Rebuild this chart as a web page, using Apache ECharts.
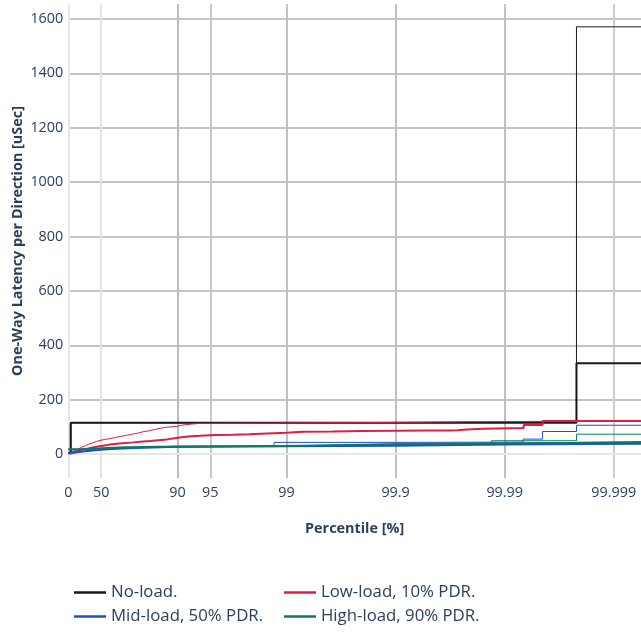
<!DOCTYPE html>
<html>
<head>
<meta charset="utf-8">
<script src="https://cdn.jsdelivr.net/npm/echarts@6/dist/echarts.min.js"></script>
<style>
html,body{margin:0;padding:0;background:#fff;}
#chart{width:641px;height:633px;}
</style>
</head>
<body>
<div id="chart"></div>
<script>
// ---- Data (percentile [%], latency [uSec]) ----
const noLoadD1Pct = [0, 5, 99.9978, 99.9995];
const noLoadD1Lat = [5, 115, 334, 334];
const noLoadD2Pct = [0, 5, 99.71, 99.9932, 99.9955, 99.9978, 99.9995];
const noLoadD2Lat = [5, 115, 116, 119, 123, 1571, 1571];

const lowLoadD1Pct = [0, 5, 10, 15, 20, 25, 30, 35, 40, 45, 50, 55, 58.6, 62, 66, 70, 74.6, 78, 82.2, 85, 87.5, 89, 90.5, 92, 93.8, 95.5, 96.9, 97.8, 98.48, 99, 99.29, 99.625, 99.8, 99.9, 99.95, 99.968, 99.973, 99.978, 99.984, 99.9933, 99.9955, 99.9995];
const lowLoadD1Lat = [3, 6, 9, 12, 15, 18, 21, 24, 27, 30, 32, 35, 37, 39, 41, 43, 45, 48, 51, 54, 57, 61, 65, 67, 70, 71, 73, 76, 78, 82, 83, 85, 86, 87, 87, 88, 90, 93, 96, 107, 122, 122];
const lowLoadD2Pct = [0, 5, 10, 15, 20, 24.6, 30, 35, 40.6, 45, 50, 54, 58.6, 63, 67, 70.9, 74, 77, 79.3, 82, 84.5, 87, 89.9, 91.1, 92.5, 93.8, 99.861, 99.975, 99.9995];
const lowLoadD2Lat = [5, 10, 15, 20, 25, 30, 36, 41, 47, 51, 54, 57, 61, 65, 69, 73, 77, 82, 86, 92, 98, 102, 107, 110, 113, 116, 119, 122, 122];

const midLoadD1Pct = [0, 5, 10, 20, 30, 40, 50, 60, 75, 90, 99, 99.9, 99.99, 99.9978, 99.9995];
const midLoadD1Lat = [3, 6, 8, 10, 13, 16, 19, 22, 27, 29, 31, 35, 37, 38, 38];
const midLoadD2Pct = [0, 10, 20, 30, 40, 50, 60, 70, 90, 98.7, 99.9, 99.9932, 99.9955, 99.9978, 99.9995];
const midLoadD2Lat = [3, 8, 11, 14, 17, 20, 23, 26, 29, 43, 44, 55, 83, 106, 106];

const highLoadD1Pct = [0, 20, 50, 70, 90, 99, 99.9, 99.99, 99.9978, 99.9995];
const highLoadD1Lat = [18, 21, 25, 28, 30, 36, 40, 42, 45, 45];
const highLoadD2Pct = [0, 30, 60, 90, 99, 99.9, 99.9868, 99.9978, 99.9995];
const highLoadD2Lat = [16, 21, 26, 30, 37, 40, 49, 73, 73];

// ---- Axis ticks ----
const xTickPct = ['0', '50', '90', '95', '99', '99.9', '99.99', '99.999'];
const xTickValues = [1, 2, 10, 20, 100, 1000, 10000, 100000]; // 1/(1-p)
const yTickValues = [0, 200, 400, 600, 800, 1000, 1200, 1400, 1600];

const names = ['No-load.', 'Low-load, 10% PDR.', 'Mid-load, 50% PDR.', 'High-load, 90% PDR.'];
const colors = ['#1a1a1a', '#dc1f45', '#1f4fc9', '#0a7a68'];

function toPts(pcts, lats) {
  return pcts.map((p, i) => [100 / (100 - p), lats[i]]);
}

const traces = [
  [noLoadD1Pct, noLoadD1Lat, 0, 2],
  [noLoadD2Pct, noLoadD2Lat, 0, 1],
  [lowLoadD1Pct, lowLoadD1Lat, 1, 2],
  [lowLoadD2Pct, lowLoadD2Lat, 1, 1],
  [midLoadD1Pct, midLoadD1Lat, 2, 2],
  [midLoadD2Pct, midLoadD2Lat, 2, 1],
  [highLoadD1Pct, highLoadD1Lat, 3, 2],
  [highLoadD2Pct, highLoadD2Lat, 3, 1]
];

const series = traces.map(t => ({
  type: 'line',
  name: names[t[2]],
  data: toPts(t[0], t[1]),
  step: 'end',
  showSymbol: false,
  symbol: 'none',
  color: colors[t[2]],
  lineStyle: { color: colors[t[2]], width: t[3] },
  animation: false
}));

const FONT = '"Open Sans", sans-serif';
const TXT = '#2a3f5f';

const chart = echarts.init(document.getElementById('chart'), null, { renderer: 'canvas' });
chart.setOption({
  backgroundColor: '#fff',
  animation: false,
  textStyle: { fontFamily: FONT },
  grid: { left: 68.3, right: 0, top: 4, bottom: 155, containLabel: false, outerBoundsMode: 'none' },
  xAxis: {
    type: 'log',
    logBase: 10,
    min: 1,
    max: Math.pow(10, 5.249),
    name: 'Percentile [%]',
    nameLocation: 'middle',
    nameGap: 44,
    nameMoveOverlap: false,
    nameTextStyle: { color: TXT, fontWeight: 'bold', fontSize: 14.4, fontFamily: FONT },
    axisLine: { show: true, lineStyle: { color: '#e6e6e6', width: 2 } },
    axisTick: { show: false, customValues: xTickValues },
    axisLabel: {
      customValues: xTickValues,
      color: TXT, fontSize: 14.4, fontFamily: FONT, margin: 8,
      formatter: v => {
        const i = xTickValues.findIndex(t => Math.abs(t - v) / t < 1e-6);
        return i >= 0 ? xTickPct[i] : '';
      }
    },
    splitLine: {
      show: true,
      lineStyle: { color: ['#e6e6e6', '#e3e3e3', '#bdbdbd', '#c8c8c8', '#c0c0c0', '#c0c0c0', '#c0c0c0', '#cccccc'], width: 2 }
    }
  },
  yAxis: {
    type: 'value',
    min: -88,
    max: 1655,
    name: 'One-Way Latency per Direction [uSec]',
    nameLocation: 'middle',
    nameGap: 43,
    nameMoveOverlap: false,
    nameTextStyle: { color: TXT, fontWeight: 'bold', fontSize: 14.4, fontFamily: FONT },
    axisLine: { show: false },
    axisTick: { show: false, customValues: yTickValues },
    axisLabel: { customValues: yTickValues, color: TXT, fontSize: 14.4, fontFamily: FONT, margin: 5, formatter: v => String(v) },
    splitLine: {
      show: true,
      lineStyle: { color: ['#ececec', '#c4c4c4', '#c4c4c4', '#c4c4c4', '#c4c4c4', '#c4c4c4', '#c4c4c4', '#c4c4c4', '#c4c4c4'], width: 2 }
    }
  },
  legend: [
    {
      orient: 'vertical', left: 74, top: 584, itemGap: 7, padding: 0,
      icon: 'rect', itemWidth: 32, itemHeight: 2.5,
      textStyle: { color: TXT, fontSize: 16.8, fontFamily: FONT },
      data: [names[0], names[2]]
    },
    {
      orient: 'vertical', left: 284, top: 584, itemGap: 7, padding: 0,
      icon: 'rect', itemWidth: 32, itemHeight: 2.5,
      textStyle: { color: TXT, fontSize: 16.8, fontFamily: FONT },
      data: [names[1], names[3]]
    }
  ],
  series: series
});
</script>
</body>
</html>
